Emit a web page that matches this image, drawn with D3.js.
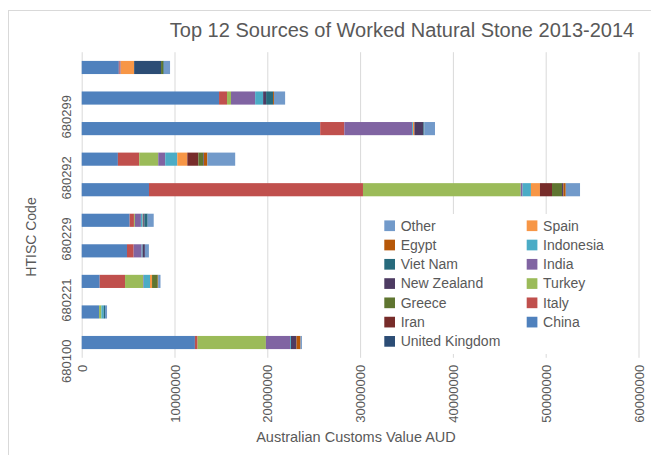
<!DOCTYPE html>
<meta charset="utf-8">
<style>
body { margin: 0; background: #fff; }
svg text { font-family: "Liberation Sans", Arial, sans-serif; fill: #595959; }
</style>
<svg width="651" height="455"></svg>
<script src="https://cdn.jsdelivr.net/npm/d3@7"></script>
<script>

// HTISC codes, bottom to top
var categories = ["680100", "680210", "680221", "680223", "680229", "680291", "680292", "680293", "680299", "680300"];

// values in AUD, one entry per category above
var china     = [12200000, 1870000, 1940000, 4880000, 5170000, 7250000, 3900000, 25700000, 14800000, 4000000];
var italy     = [290000, 0, 2730000, 720000, 460000, 23060000, 2300000, 2600000, 860000, 100000];
var turkey    = [7360000, 250000, 1940000, 0, 100000, 17000000, 2050000, 0, 430000, 0];
var india     = [2600000, 0, 70000, 860000, 650000, 200000, 750000, 7300000, 2600000, 100000];
var indonesia = [100000, 250000, 680000, 100000, 200000, 900000, 1300000, 100000, 860000, 0];
var spain     = [0, 0, 220000, 0, 50000, 970000, 1080000, 150000, 0, 1450000];
var uk        = [0, 0, 0, 0, 0, 0, 0, 0, 0, 2900000];
var iran      = [0, 0, 0, 0, 0, 1300000, 1190000, 0, 0, 0];
var greece    = [0, 0, 610000, 0, 0, 1080000, 540000, 0, 0, 250000];
var nz        = [600000, 0, 0, 250000, 120000, 150000, 70000, 970000, 320000, 0];
var vietnam   = [0, 140000, 0, 0, 360000, 0, 0, 100000, 750000, 70000];
var egypt     = [430000, 0, 50000, 0, 0, 250000, 360000, 0, 100000, 0];
var other     = [150000, 220000, 250000, 430000, 650000, 1540000, 3000000, 1150000, 1200000, 650000];

var seriesNames = ["China", "Italy", "Turkey", "India", "Indonesia", "Spain", "United Kingdom",
                   "Iran", "Greece", "New Zealand", "Viet Nam", "Egypt", "Other"];
var seriesValues = [china, italy, turkey, india, indonesia, spain, uk, iran, greece, nz, vietnam, egypt, other];
var seriesColors = ["#4f81bd", "#c0504d", "#9bbb59", "#8064a2", "#4bacc6", "#f79646", "#2c4d75",
                    "#772c2a", "#5f7530", "#4d3b62", "#276a7c", "#b65708", "#729aca"];

var xTicks = [0, 10000000, 20000000, 30000000, 40000000, 50000000, 60000000];

var svg = d3.select("svg");

// chart frame
svg.append("rect")
    .attr("x", 8.5).attr("y", 10.5)
    .attr("width", 700).attr("height", 500)
    .attr("fill", "none").attr("stroke", "#d9d9d9");

var plotLeft = 81.7, plotRight = 638.5, plotTop = 52.2, plotBottom = 357.8;

var x = d3.scaleLinear().domain([0, 60000000]).range([plotLeft, plotRight]);
var y = d3.scaleBand()
    .domain(categories.slice().reverse())
    .range([plotTop, plotBottom])
    .paddingInner(0.57)
    .paddingOuter(0.285);

var table = categories.map(function(c, i) {
  var row = {code: c};
  seriesNames.forEach(function(s, k) { row[s] = seriesValues[k][i]; });
  return row;
});

var stack = d3.stack().keys(seriesNames)(table);

// gridlines
var grid = svg.append("g")
    .attr("transform", "translate(0," + plotBottom + ")")
    .call(d3.axisBottom(x).tickValues(xTicks).tickSize(-(plotBottom - plotTop)).tickFormat(""));
grid.select(".domain").remove();
grid.selectAll("line").attr("stroke", "#d9d9d9");

// bars
svg.append("g").selectAll("g")
    .data(stack)
    .enter().append("g")
    .attr("fill", function(d, i) { return seriesColors[i]; })
    .selectAll("rect")
    .data(function(d) { return d; })
    .enter().append("rect")
    .attr("x", function(d) { return x(d[0]); })
    .attr("y", function(d) { return y(d.data.code); })
    .attr("width", function(d) { return x(d[1]) - x(d[0]); })
    .attr("height", y.bandwidth());

// x tick labels
var gx = svg.append("g")
    .attr("transform", "translate(0," + plotBottom + ")")
    .call(d3.axisBottom(x).tickValues(xTicks).tickSize(0).tickFormat(d3.format("d")));
gx.select(".domain").remove();
gx.selectAll("text")
    .attr("transform", "rotate(-90)")
    .attr("text-anchor", "end")
    .attr("x", -7).attr("y", 0).attr("dy", "0.35em")
    .style("font-size", "13px").style("fill", "#595959");

// y labels, every other category
var gy = svg.append("g")
    .attr("transform", "translate(" + plotLeft + ",0)")
    .call(d3.axisLeft(y).tickSize(0).tickFormat(function(d) {
      return categories.indexOf(d) % 2 === 0 ? d : "";
    }));
gy.select(".domain").remove();
gy.selectAll("text")
    .attr("transform", "rotate(-90)")
    .attr("text-anchor", "end")
    .attr("x", 3).attr("y", -15.7).attr("dy", "0.35em")
    .style("font-size", "13px").style("fill", "#595959");

// legend
var legend = svg.append("g");
legend.append("rect")
    .attr("x", 378).attr("y", 214).attr("width", 246).attr("height", 140)
    .attr("fill", "#fff");

var legendOrder = seriesNames.slice().reverse();
var legendItems = legend.selectAll("g.item")
    .data(legendOrder)
    .enter().append("g")
    .attr("class", "item")
    .attr("transform", function(d, i) {
      var col = i < 7 ? 0 : 1, row = i < 7 ? i : i - 7;
      return "translate(" + (col === 0 ? 384.3 : 526.7) + "," + (225.7 + row * 19.27) + ")";
    });
legendItems.append("rect")
    .attr("x", 0).attr("y", -5.3)
    .attr("width", 10.7).attr("height", 10.7)
    .attr("fill", function(d) { return seriesColors[seriesNames.indexOf(d)]; });
legendItems.append("text")
    .attr("x", 16.4).attr("dy", "0.35em")
    .style("font-size", "14px")
    .text(function(d) { return d; });

// titles
svg.append("text")
    .attr("x", 402).attr("y", 37)
    .attr("text-anchor", "middle")
    .style("font-size", "20px")
    .text("Top 12 Sources of Worked Natural Stone 2013-2014");

svg.append("text")
    .attr("x", 356).attr("y", 442)
    .attr("text-anchor", "middle")
    .style("font-size", "14.5px")
    .text("Australian Customs Value AUD");

svg.append("text")
    .attr("transform", "translate(31,237) rotate(-90)")
    .attr("text-anchor", "middle")
    .attr("dy", "0.35em")
    .style("font-size", "14px")
    .text("HTISC Code");

</script>
